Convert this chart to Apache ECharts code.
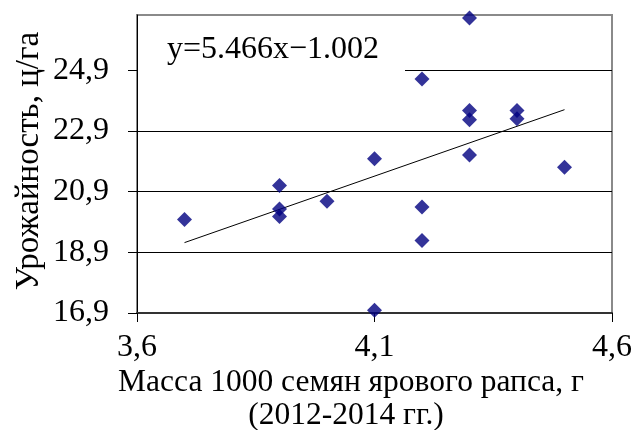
<!DOCTYPE html>
<html><head><meta charset="utf-8">
<script src="https://cdn.jsdelivr.net/npm/echarts@6/dist/echarts.min.js"></script>
<style>html,body{margin:0;padding:0;background:#fff}#c{width:637px;height:430px}</style>
</head><body><div id="c"></div>
<script>
const seedMass = [3.7, 3.9, 3.9, 3.9, 4.0, 4.1, 4.1, 4.2, 4.2, 4.2, 4.3, 4.3, 4.3, 4.3, 4.4, 4.4, 4.5];
const yieldVals = [19.98, 21.1, 20.33, 20.08, 20.58, 21.98, 16.99, 24.61, 20.39, 19.29, 26.62, 23.57, 23.27, 22.11, 23.57, 23.3, 21.7];
const trendX = [3.7, 4.5];
const trendY = [19.22, 23.6];
const equationText = 'y=5.466x\u22121.002';
const xTitle = ['Масса 1000 семян ярового рапса, г', '(2012-2014 гг.)'];
const yTitle = 'Урожайность, ц/га';

const font = '"Liberation Serif", "Times New Roman", serif';
const chart = echarts.init(document.getElementById('c'));
chart.setOption({
  animation: false,
  grid: {left: 137, right: 25, top: 15, bottom: 117, show: true, borderColor: '#8a8a8a', borderWidth: 2, backgroundColor: '#fff'},
  xAxis: {
    type: 'value', min: 3.6, max: 4.6, interval: 0.5,
    axisLine: {show: true, onZero: false, lineStyle: {color: '#333', width: 2}},
    axisTick: {show: true, inside: false, length: 9, lineStyle: {color: '#000', width: 1}},
    splitLine: {show: false},
    axisLabel: {fontFamily: font, fontSize: 32, color: '#000', margin: 19,
      formatter: v => v.toFixed(1).replace('.', ',')}
  },
  yAxis: {
    type: 'value', min: 16.9, max: 26.72, interval: 2,
    axisLine: {show: true, onZero: false, lineStyle: {color: '#000', width: 1}},
    axisTick: {show: true, inside: false, length: 9, lineStyle: {color: '#000'}},
    splitLine: {show: true, lineStyle: {color: ['#000','#000','#000','#000','#000','#8a8a8a'], width: 1}},
    axisLabel: {fontFamily: font, fontSize: 32, color: '#000', margin: 28, showMaxLabel: false,
      formatter: v => v.toFixed(1).replace('.', ',')}
  },
  series: [
    {type: 'line', data: trendX.map((x, i) => [x, trendY[i]]), showSymbol: false, symbol: 'none',
     lineStyle: {color: '#000', width: 1}, z: 3},
    {type: 'scatter', data: seedMass.map((x, i) => [x, yieldVals[i]]), symbol: 'diamond', symbolSize: 15,
     itemStyle: {color: '#000080'}, z: 4}
  ],
  graphic: [
    {type: 'rect', z: 50, shape: {x: 138, y: 24, width: 267, height: 50}, style: {fill: '#fff'}},
    {type: 'text', z: 51, x: 167, y: 50, style: {text: equationText, font: '32px ' + font, fill: '#000', verticalAlign: 'middle'}},
    {type: 'text', z: 51, x: 351, y: 383, style: {text: xTitle[0], font: '31.5px ' + font, fill: '#000', align: 'center', verticalAlign: 'middle'}},
    {type: 'text', z: 51, x: 346, y: 416, style: {text: xTitle[1], font: '31.5px ' + font, fill: '#000', align: 'center', verticalAlign: 'middle'}},
    {type: 'text', z: 51, x: 29, y: 161, rotation: Math.PI / 2, style: {text: yTitle, font: '33px ' + font, fill: '#000', align: 'center', verticalAlign: 'middle'}}
  ]
});
</script></body></html>
